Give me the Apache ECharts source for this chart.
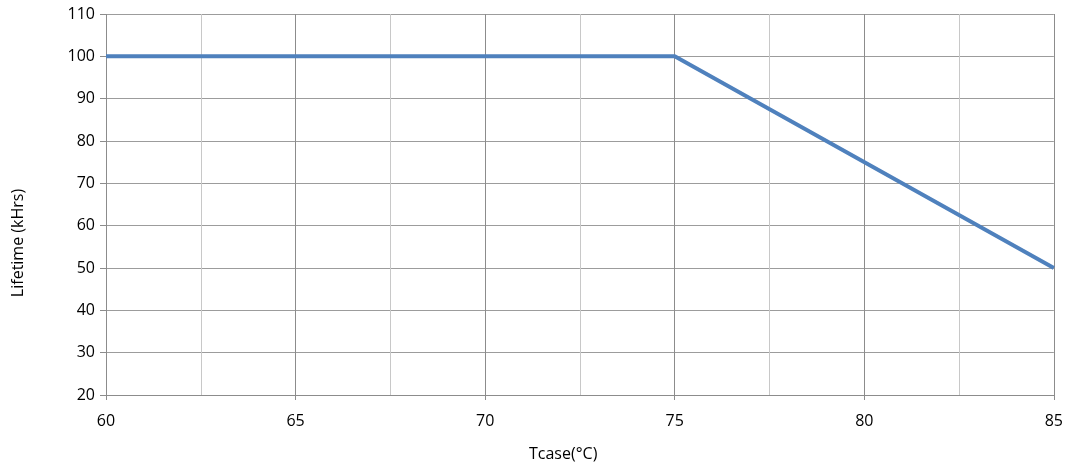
<!DOCTYPE html>
<html>
<head>
<meta charset="utf-8">
<script src="https://cdn.jsdelivr.net/npm/echarts@6/dist/echarts.min.js"></script>
<style>html,body{margin:0;padding:0;background:#fff}#c{width:1066px;height:469px}</style>
</head>
<body>
<div id="c"></div>
<script>
const tcase = [60, 75, 85];
const lifetime = [100, 100, 50];
const xTitle = 'Tcase(°C)';
const yTitle = 'Lifetime (kHrs)';

const chart = echarts.init(document.getElementById('c'));
const font = '"Open Sans", Lato, sans-serif';
chart.setOption({
  animation: false,
  grid: {left: 106, right: 11, top: 14, bottom: 74},
  xAxis: {
    type: 'value', min: 60, max: 85, interval: 5,
    axisLine: {show: true, lineStyle: {color: '#8c8c8c', width: 1}},
    axisTick: {show: true, length: 5, lineStyle: {color: '#8c8c8c'}},
    axisLabel: {color: '#000', fontSize: 16, fontFamily: font, margin: 18},
    splitLine: {show: true, lineStyle: {color: '#8c8c8c', width: 1}},
    minorTick: {show: false, splitNumber: 2},
    minorSplitLine: {show: true, lineStyle: {color: '#c8c8c8', width: 1}}
  },
  yAxis: {
    type: 'value', min: 20, max: 110, interval: 10,
    axisLine: {show: false},
    axisTick: {show: true, length: 6, lineStyle: {color: '#8c8c8c'}},
    axisLabel: {color: '#000', fontSize: 16, fontFamily: font, margin: 11},
    splitLine: {show: true, lineStyle: {color: '#9c9c9c', width: 1}}
  },
  graphic: [
    {type: 'text', left: 529, top: 446, style: {text: xTitle, fontSize: 16, fontFamily: font, fill: '#000'}},
    {type: 'text', x: 10, y: 243, rotation: Math.PI/2, style: {text: yTitle, fontSize: 16, fontFamily: font, fill: '#000', align: 'center', verticalAlign: 'top'}}
  ],
  series: [{
    type: 'line', data: tcase.map((x, i) => [x, lifetime[i]]),
    symbol: 'none', lineStyle: {color: '#4f81bd', width: 4}
  }]
});
</script>
</body>
</html>
